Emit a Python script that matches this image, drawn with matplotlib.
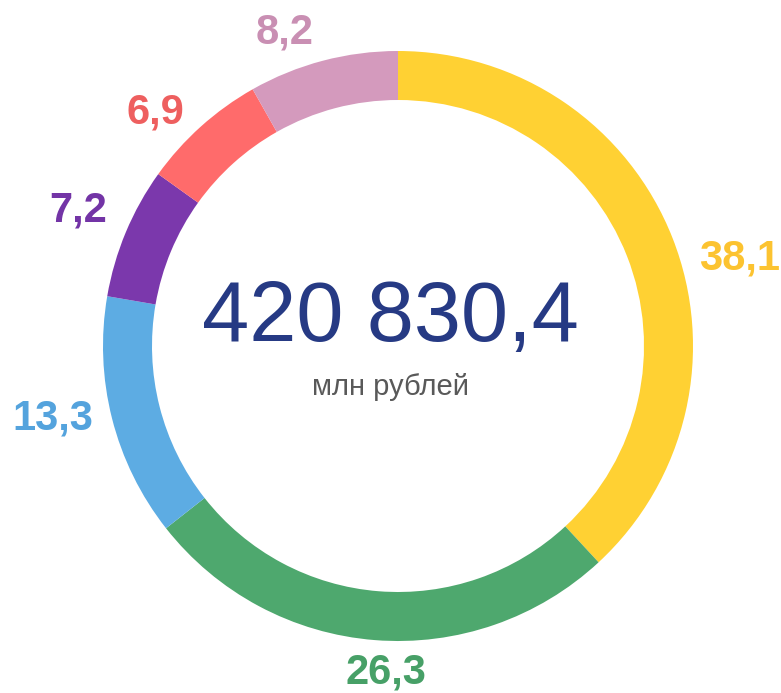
import numpy as np
import matplotlib.pyplot as plt

plt.rcParams['font.family'] = ['Liberation Sans', 'DejaVu Sans']

shares = [38.1, 26.3, 13.3, 7.2, 6.9, 8.2]
labels = ['38,1', '26,3', '13,3', '7,2', '6,9', '8,2']
colors = ['#FFD133', '#4EA86E', '#5DACE3', '#7B38AC', '#FF6B6B', '#D49ABD']
label_colors = ['#FCC330', '#47A067', '#54A3DD', '#7334A6', '#EE5F5F', '#C98FB3']
total = '420 830,4'
unit = 'млн рублей'

# label anchor points in pixel coords (x, y from top)
label_pos = [(699, 258), (386, 672), (53, 418), (78, 210), (155, 112), (285, 33)]
label_ha = ['left', 'center', 'center', 'center', 'center', 'center']

W, H = 781, 693
fig = plt.figure(figsize=(W / 100, H / 100), dpi=100)
ax = fig.add_axes([0, 0, 1, 1])
ax.set_xlim(0, W)
ax.set_ylim(H, 0)
ax.set_aspect('equal')
ax.axis('off')

# y axis is inverted, so counterclock=True draws clockwise on screen
ax.pie(shares, colors=colors, center=(398, 346), radius=295,
       startangle=-90, counterclock=True,
       wedgeprops=dict(width=49, edgecolor='none', linewidth=0))
ax.set_xlim(0, W)
ax.set_ylim(H, 0)

for lab, col, (x, y), ha in zip(labels, label_colors, label_pos, label_ha):
    ax.text(x, y, lab, color=col, fontsize=30, fontweight='bold',
            ha=ha, va='center')

ax.text(390, 319, total, color='#263A84', fontsize=61, ha='center', va='center')
ax.text(390, 387, unit, color='#595959', fontsize=21, ha='center', va='center')

fig.savefig('out.png', dpi=100)
